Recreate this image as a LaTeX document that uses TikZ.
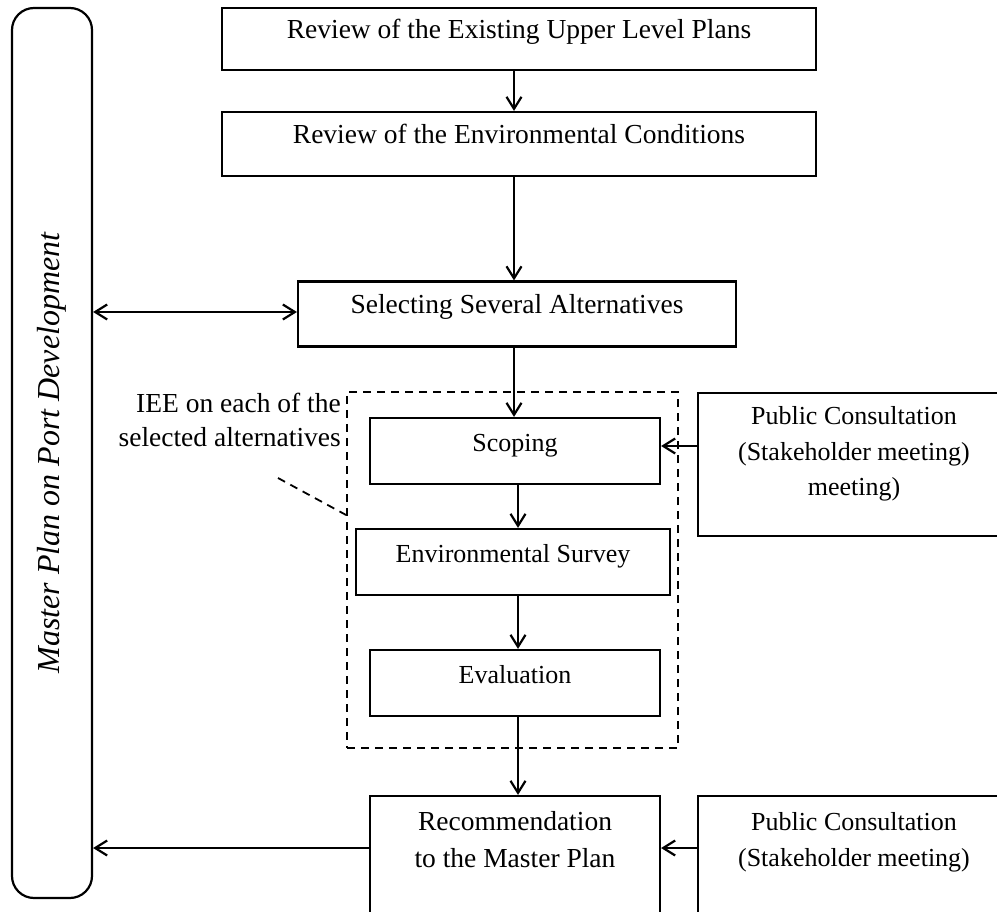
\documentclass[tikz,border=0pt]{standalone}
\usepackage{fontspec}
\setmainfont{Liberation Serif}
\usetikzlibrary{arrows.meta}

\begin{document}
\begin{tikzpicture}[
  x=1pt, y=-1pt,
  font=\fontsize{26}{36}\selectfont,
  every node/.style={inner sep=0pt},
  big/.style={font=\fontsize{27.5}{37}\selectfont},
  b/.style={draw, line width=2.2pt, text height=0pt, text depth=0pt},
  tb/.style={draw, line width=2.2pt, anchor=base},
  ar/.style={line width=2.2pt, -{Straight Barb[length=12pt, width=15pt]}},
  dar/.style={line width=2.2pt, {Straight Barb[length=12pt, width=15pt]}-{Straight Barb[length=12pt, width=15pt]}},
  dsh/.style={line width=1.8pt, dash pattern=on 8pt off 6pt}
]
\useasboundingbox (0,0) rectangle (997,912);
\clip (0,0) rectangle (997,912);

% master plan column
\node[draw, line width=2.2pt, rounded corners=22pt, rotate=90, minimum width=890pt, minimum height=80pt, font=\fontsize{32}{38}\selectfont\itshape] (mp) at (52,453) {Master Plan on Port Development};

% main flow
\node[b, big, minimum width=594pt, minimum height=62pt] (rev1) at (519,39) {Review of the Existing Upper Level Plans};
\node[b, big, minimum width=594pt, minimum height=64pt] (rev2) at (519,144) {Review of the Environmental Conditions};
\node[b, big, minimum width=438pt, minimum height=65pt] (sel) at (517,314) {Selecting Several Alternatives};

% IEE block
\node[draw, dsh, minimum width=331pt, minimum height=356pt] (iee) at (512.5,570) {};
\node[b, minimum width=290pt, minimum height=66pt] (scop) at (515,451) {Scoping};
\node[b, minimum width=314pt, minimum height=66pt] (surv) at (513,562) {Environmental Survey};
\node[b, minimum width=290pt, minimum height=66pt] (eval) at (515,683) {Evaluation};
\node[big, anchor=base east, font=\fontsize{27.5}{35}\selectfont] (ieelbl) at (341,412) {\begin{tabular}[t]{@{}r@{}}IEE on each of the\\selected alternatives\end{tabular}};
\coordinate (ldr) at (278,478);

\node[tb, big, minimum width=290pt, text height=34pt, text depth=140pt] (rec) at (515,830) {\begin{tabular}[t]{c}Recommendation\\to the Master Plan\end{tabular}};

% consultation
\node[tb, minimum width=312pt, text height=31pt, text depth=112pt] (pc1) at (854,424) {\begin{tabular}[t]{c}Public Consultation\\(Stakeholder meeting)\\meeting)\end{tabular}};
\node[tb, minimum width=312pt, text height=34pt, text depth=140pt] (pc2) at (854,830) {\begin{tabular}[t]{c}Public Consultation\\(Stakeholder meeting)\end{tabular}};

\draw[dsh] (ldr) -- ([yshift=55pt]iee.west);

\draw[ar] ([xshift=-5pt]rev1.south) -- ([xshift=-5pt]rev2.north);
\draw[ar] ([xshift=-5pt]rev2.south) -- ([xshift=-5pt]rev2.south |- sel.north);
\draw[ar] ([xshift=-3pt]sel.south) -- ([xshift=-3pt]sel.south |- scop.north);
\draw[ar] ([xshift=3pt]scop.south) -- ([xshift=3pt]scop.south |- surv.north);
\draw[ar] ([xshift=3pt]eval.north |- surv.south) -- ([xshift=3pt]eval.north);
\draw[ar] ([xshift=3pt]eval.south) -- ([xshift=3pt]rec.north);
\draw[dar] ([yshift=2pt]sel.west -| mp.south) -- ([yshift=2pt]sel.west);
\draw[ar] ([yshift=5pt]scop.east -| pc1.west) -- ([yshift=5pt]scop.east);
\draw[ar] ([yshift=-18pt]pc2.base west) -- ([yshift=-18pt]rec.base east);
\draw[ar] ([yshift=-18pt]rec.base west) -- ([yshift=-18pt]rec.base west -| mp.south);
\end{tikzpicture}
\end{document}
